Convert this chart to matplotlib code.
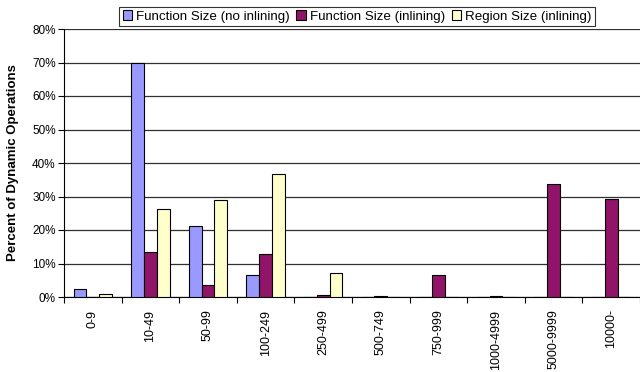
import matplotlib
matplotlib.use("Agg")
import matplotlib.pyplot as plt
import numpy as np
from matplotlib.ticker import PercentFormatter

plt.rcParams["font.family"] = ["Liberation Sans", "DejaVu Sans"]

categories = ["0-9", "10-49", "50-99", "100-249", "250-499", "500-749",
              "750-999", "1000-4999", "5000-9999", "10000-"]
func_no_inline = [2.5, 70.0, 21.3, 6.5, 0.0, 0.0, 0.0, 0.0, 0.0, 0.0]
func_inline = [0.0, 13.4, 3.5, 12.8, 0.7, 0.4, 6.5, 0.4, 33.6, 29.2]
region_inline = [0.8, 26.2, 28.9, 36.6, 7.2, 0.0, 0.0, 0.0, 0.0, 0.0]

series = [
    ("Function Size (no inlining)", func_no_inline, "#9999FF"),
    ("Function Size (inlining)", func_inline, "#901468"),
    ("Region Size (inlining)", region_inline, "#FFFFCC"),
]

fig = plt.figure(figsize=(6.4, 3.72), dpi=100)
ax = fig.add_axes([64 / 640, 1 - 297 / 372, 1 - 64 / 640, 268 / 372])

x = np.arange(len(categories))
width = 0.222
for i, (label, values, color) in enumerate(series):
    ax.bar(x + (i - 1) * width, values, width, color=color,
           edgecolor="black", linewidth=0.8, label=label, zorder=3)

ax.set_xlim(-0.5, 9.42)
ax.set_ylim(0, 80)
ax.set_yticks(np.arange(0, 81, 10))
ax.yaxis.set_major_formatter(PercentFormatter(decimals=0))
ax.yaxis.grid(True, color="#303030", linewidth=0.9, zorder=0)

ax.set_xticks(x)
ax.set_xticklabels(categories, rotation=90, fontsize=9)
ax.set_xticks(np.arange(-0.5, 10, 1), minor=True)
ax.tick_params(axis="x", which="major", length=0, pad=9)
ax.tick_params(axis="x", which="minor", length=4, width=0.8, direction="out")
ax.tick_params(axis="y", length=4, width=0.8, direction="out", labelsize=8.5, pad=2)

for side in ("top", "right"):
    ax.spines[side].set_visible(False)
ax.spines["left"].set_linewidth(0.8)
ax.spines["bottom"].set_linewidth(0.8)

ax.set_ylabel("Percent of Dynamic Operations", fontsize=9.5, fontweight="bold")
ax.yaxis.set_label_coords(-45 / 576, 0.5)

leg = fig.legend(loc="center", bbox_to_anchor=(357 / 640, 1 - 16.5 / 372),
                 ncol=3, fontsize=9.6, frameon=True, fancybox=False,
                 handlelength=0.7, handleheight=0.7, handletextpad=0.3,
                 columnspacing=0.5, borderpad=0.25, borderaxespad=0)
leg.get_frame().set_edgecolor("black")
leg.get_frame().set_linewidth(0.8)

fig.savefig("out.png", dpi=100, facecolor="white")
